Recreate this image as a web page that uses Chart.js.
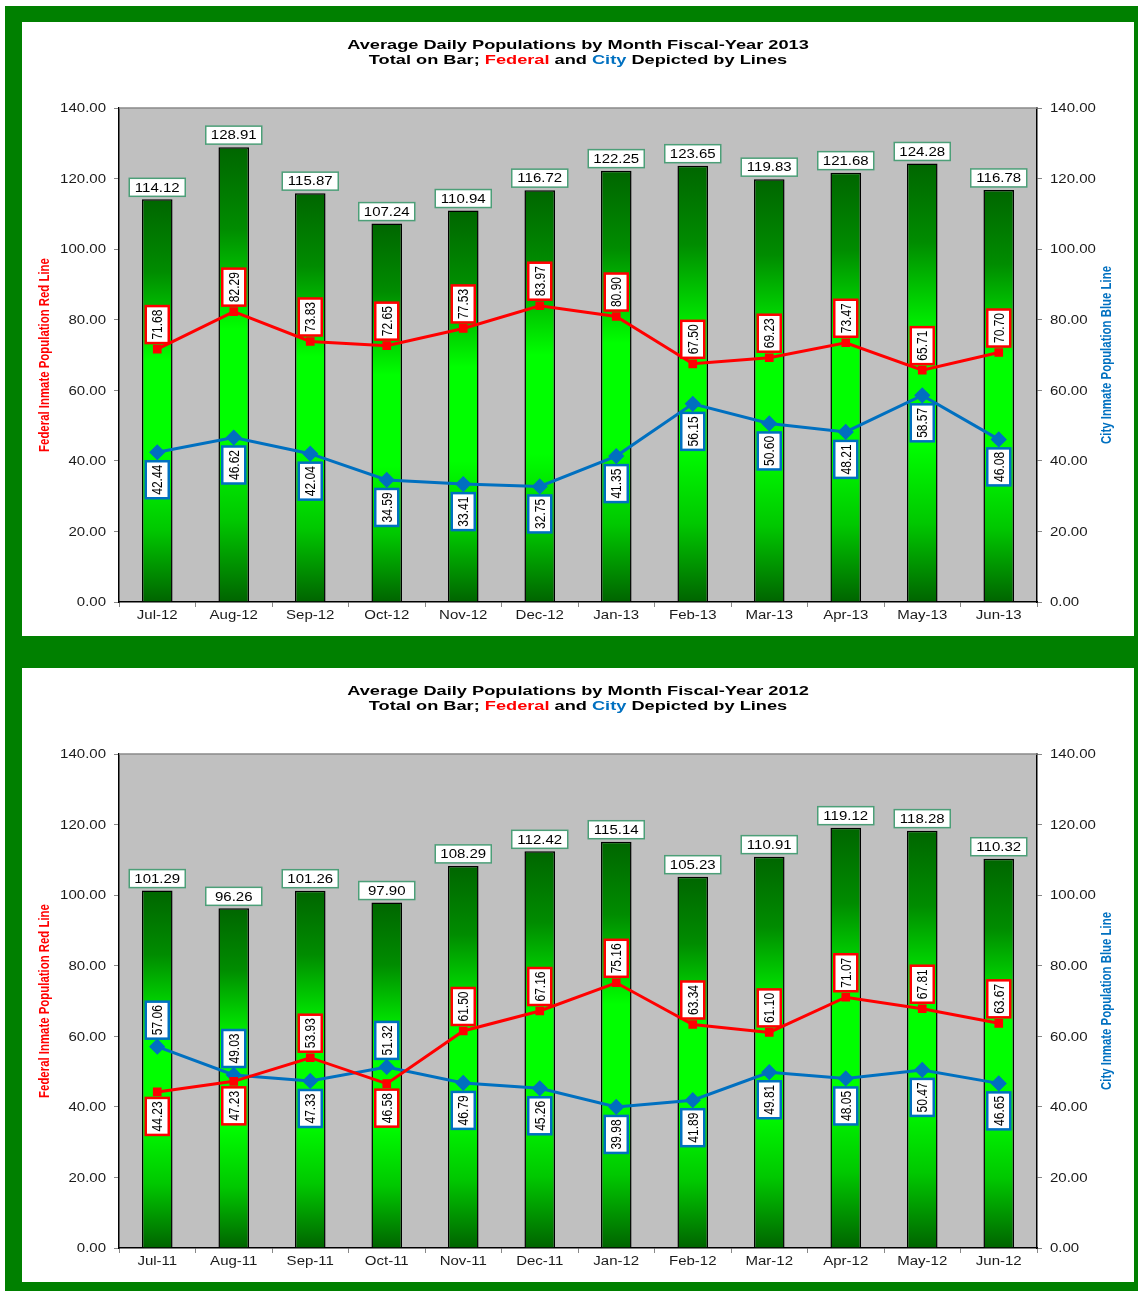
<!DOCTYPE html>
<html>
<head>
<meta charset="utf-8">
<script src="https://cdn.jsdelivr.net/npm/chart.js@4.4.0/dist/chart.umd.min.js"></script>
<style>
body { margin: 0; background: #fff; }
#frame { position: absolute; left: 5px; top: 6px; width: 1133px; height: 1285px; background: #008000; }
.panel { position: absolute; left: 17px; width: 1112px; height: 614px; background: #fff; }
</style>
</head>
<body>
<div id="frame">
  <div class="panel" style="top:16px"><canvas id="fy2013" width="1112" height="614"></canvas></div>
  <div class="panel" style="top:662px"><canvas id="fy2012" width="1112" height="614"></canvas></div>
</div>
<script>
// FY2013
var months13 = ['Jul-12','Aug-12','Sep-12','Oct-12','Nov-12','Dec-12','Jan-13','Feb-13','Mar-13','Apr-13','May-13','Jun-13'];
var total13 = [114.12, 128.91, 115.87, 107.24, 110.94, 116.72, 122.25, 123.65, 119.83, 121.68, 124.28, 116.78];
var federal13 = [71.68, 82.29, 73.83, 72.65, 77.53, 83.97, 80.90, 67.50, 69.23, 73.47, 65.71, 70.70];
var city13 = [42.44, 46.62, 42.04, 34.59, 33.41, 32.75, 41.35, 56.15, 50.60, 48.21, 58.57, 46.08];

// FY2012
var months12 = ['Jul-11','Aug-11','Sep-11','Oct-11','Nov-11','Dec-11','Jan-12','Feb-12','Mar-12','Apr-12','May-12','Jun-12'];
var total12 = [101.29, 96.26, 101.26, 97.90, 108.29, 112.42, 115.14, 105.23, 110.91, 119.12, 118.28, 110.32];
var federal12 = [44.23, 47.23, 53.93, 46.58, 61.50, 67.16, 75.16, 63.34, 61.10, 71.07, 67.81, 63.67];
var city12 = [57.06, 49.03, 47.33, 51.32, 46.79, 45.26, 39.98, 41.89, 49.81, 48.05, 50.47, 46.65];

var yTicks = [0, 20, 40, 60, 80, 100, 120, 140];

var FONT = '"Liberation Sans", Arial, sans-serif';
var RED = '#ff0000';
var BLUE = '#0070c0';
var SX = 1.25; // the original picture is stretched sideways

function wideText(c, txt, x, y, align, sx) {
    c.save();
    c.translate(x, y);
    c.scale(sx, 1);
    c.textAlign = align;
    c.fillText(txt, 0, 0);
    c.restore();
}

function upText(c, txt, x, y, along, across) {
    c.save();
    c.translate(x, y);
    c.rotate(-Math.PI / 2);
    c.scale(along, across);
    c.textAlign = 'center';
    c.textBaseline = 'middle';
    c.fillText(txt, 0, 0);
    c.restore();
}

function box(c, cx, cy, w, h, border, lw) {
    c.fillStyle = '#fff';
    c.fillRect(cx - w / 2, cy - h / 2, w, h);
    c.strokeStyle = border;
    c.lineWidth = lw;
    c.strokeRect(cx - w / 2, cy - h / 2, w, h);
}

function barFill(context) {
    var chart = context.chart;
    if (!chart.chartArea) return '#00c000';
    var ys = chart.scales.y;
    var top = ys.getPixelForValue(context.raw);
    var bot = ys.getPixelForValue(0);
    var g = chart.ctx.createLinearGradient(0, top, 0, bot);
    g.addColorStop(0, '#006600');
    g.addColorStop(0.18, '#008c00');
    g.addColorStop(0.4, '#00ff00');
    g.addColorStop(0.64, '#00ff00');
    g.addColorStop(0.82, '#00c800');
    g.addColorStop(1, '#006400');
    return g;
}

var decorPlugin = {
    id: 'decor',
    beforeDraw: function(chart) {
        var c = chart.ctx, a = chart.chartArea;
        c.save();
        c.fillStyle = '#c0c0c0';
        c.fillRect(a.left, a.top, a.right - a.left, a.bottom - a.top);
        c.restore();
    },
    afterDraw: function(chart) {
        var c = chart.ctx, a = chart.chartArea;
        var o = chart.options.plugins.decor;
        var xs = chart.scales.x, ys = chart.scales.y;
        c.save();
        // top border
        c.strokeStyle = '#8a8a8a';
        c.lineWidth = 1.5;
        c.beginPath();
        c.moveTo(a.left, a.top);
        c.lineTo(a.right, a.top);
        c.stroke();

        // tick labels
        c.fillStyle = '#1a1a1a';
        c.font = '12px ' + FONT;
        c.textBaseline = 'middle';
        yTicks.forEach(function(v) {
            var py = ys.getPixelForValue(v) + 1;
            wideText(c, v.toFixed(2), a.left - 13, py, 'right', SX);
            wideText(c, v.toFixed(2), a.right + 13, py, 'left', SX);
        });
        o.months.forEach(function(m, j) {
            wideText(c, m, xs.getPixelForValue(j), a.bottom + 14, 'center', SX);
        });

        // title
        c.font = 'bold 13px ' + FONT;
        var tsx = 1.4;
        var mid = chart.width / 2;
        c.fillStyle = '#000';
        wideText(c, o.title, mid, 23, 'center', tsx);
        var parts = [['Total on Bar; ', '#000'], ['Federal', RED], [' and ', '#000'], ['City', BLUE], [' Depicted by Lines', '#000']];
        var tw = 0;
        parts.forEach(function(p) { tw += c.measureText(p[0]).width * tsx; });
        var x = mid - tw / 2;
        parts.forEach(function(p) {
            c.fillStyle = p[1];
            wideText(c, p[0], x, 38, 'left', tsx);
            x += c.measureText(p[0]).width * tsx;
        });

        // axis titles
        c.font = 'bold 12px ' + FONT;
        var cy = (a.top + a.bottom) / 2;
        c.fillStyle = RED;
        upText(c, 'Federal Inmate Population Red Line', 23, cy, 0.95, 1.15);
        c.fillStyle = BLUE;
        upText(c, 'City Inmate Population Blue Line', 1085, cy, 0.95, 1.15);
        c.restore();
    },
    afterDatasetsDraw: function(chart) {
        var c = chart.ctx;
        var o = chart.options.plugins.decor;
        var bars = chart.getDatasetMeta(0).data;
        var red = chart.getDatasetMeta(1).data;
        var blue = chart.getDatasetMeta(2).data;
        c.save();
        bars.forEach(function(b, j) {
            var cy = b.y - 3 - 9;
            box(c, b.x, cy, 56, 18, '#4c9f78', 1.5);
            c.fillStyle = '#000';
            c.font = '12px ' + FONT;
            c.textBaseline = 'middle';
            wideText(c, o.total[j].toFixed(2), b.x, cy + 1, 'center', SX);
        });
        var w = 23, h = 37;
        red.forEach(function(r, j) {
            var bl = blue[j];
            var fedUp = o.federal[j] >= o.city[j];
            var ry = fedUp ? r.y - 6 - h / 2 : r.y + 6 + h / 2;
            var by = fedUp ? bl.y + 9 + h / 2 : bl.y - 8 - h / 2;
            box(c, r.x, ry, w, h, RED, 2.5);
            box(c, bl.x, by, w, h, BLUE, 2.5);
            c.fillStyle = '#000';
            c.font = '12px ' + FONT;
            upText(c, o.federal[j].toFixed(2), r.x + 1, ry, 1, 1.15);
            upText(c, o.city[j].toFixed(2), bl.x + 1, by, 1, 1.15);
        });
        c.restore();
    }
};

function yScale(pos) {
    return {
        position: pos,
        min: 0,
        max: 140,
        ticks: { display: false, stepSize: 20 },
        grid: { drawOnChartArea: false, tickLength: 5, color: '#888' },
        border: { color: '#000', width: 1.5 },
        afterFit: function(s) { s.width = 97; }
    };
}

function makeChart(id, title, months, total, federal, city) {
    return new Chart(document.getElementById(id), {
        data: {
            labels: months,
            datasets: [{
                type: 'bar',
                data: total,
                yAxisID: 'y',
                backgroundColor: barFill,
                borderColor: '#000',
                borderWidth: 1.5,
                barPercentage: 0.4,
                categoryPercentage: 1.0,
                order: 3
            },
            {
                type: 'line',
                data: federal,
                yAxisID: 'y',
                borderColor: RED,
                backgroundColor: RED,
                borderWidth: 3,
                pointStyle: 'rect',
                pointRadius: 4,
                tension: 0,
                order: 0
            },
            {
                type: 'line',
                data: city,
                yAxisID: 'y2',
                borderColor: BLUE,
                backgroundColor: BLUE,
                borderWidth: 3,
                pointStyle: 'rectRot',
                pointRadius: 6,
                tension: 0,
                order: 1
            }]
        },
        options: {
            responsive: false,
            animation: false,
            layout: { padding: { top: 86, left: 0, right: 0, bottom: 0 } },
            plugins: {
                legend: { display: false },
                tooltip: { enabled: false },
                decor: { title: title, months: months, total: total, federal: federal, city: city }
            },
            scales: {
                x: {
                    ticks: { display: false },
                    grid: { offset: true, drawOnChartArea: false, tickLength: 5, color: '#888' },
                    border: { color: '#000', width: 1.5 },
                    afterFit: function(s) { s.height = 34; }
                },
                y: yScale('left'),
                y2: yScale('right')
            }
        },
        plugins: [decorPlugin]
    });
}

makeChart('fy2013', 'Average Daily Populations by Month Fiscal-Year 2013', months13, total13, federal13, city13);
makeChart('fy2012', 'Average Daily Populations by Month Fiscal-Year 2012', months12, total12, federal12, city12);
</script>
</body>
</html>
